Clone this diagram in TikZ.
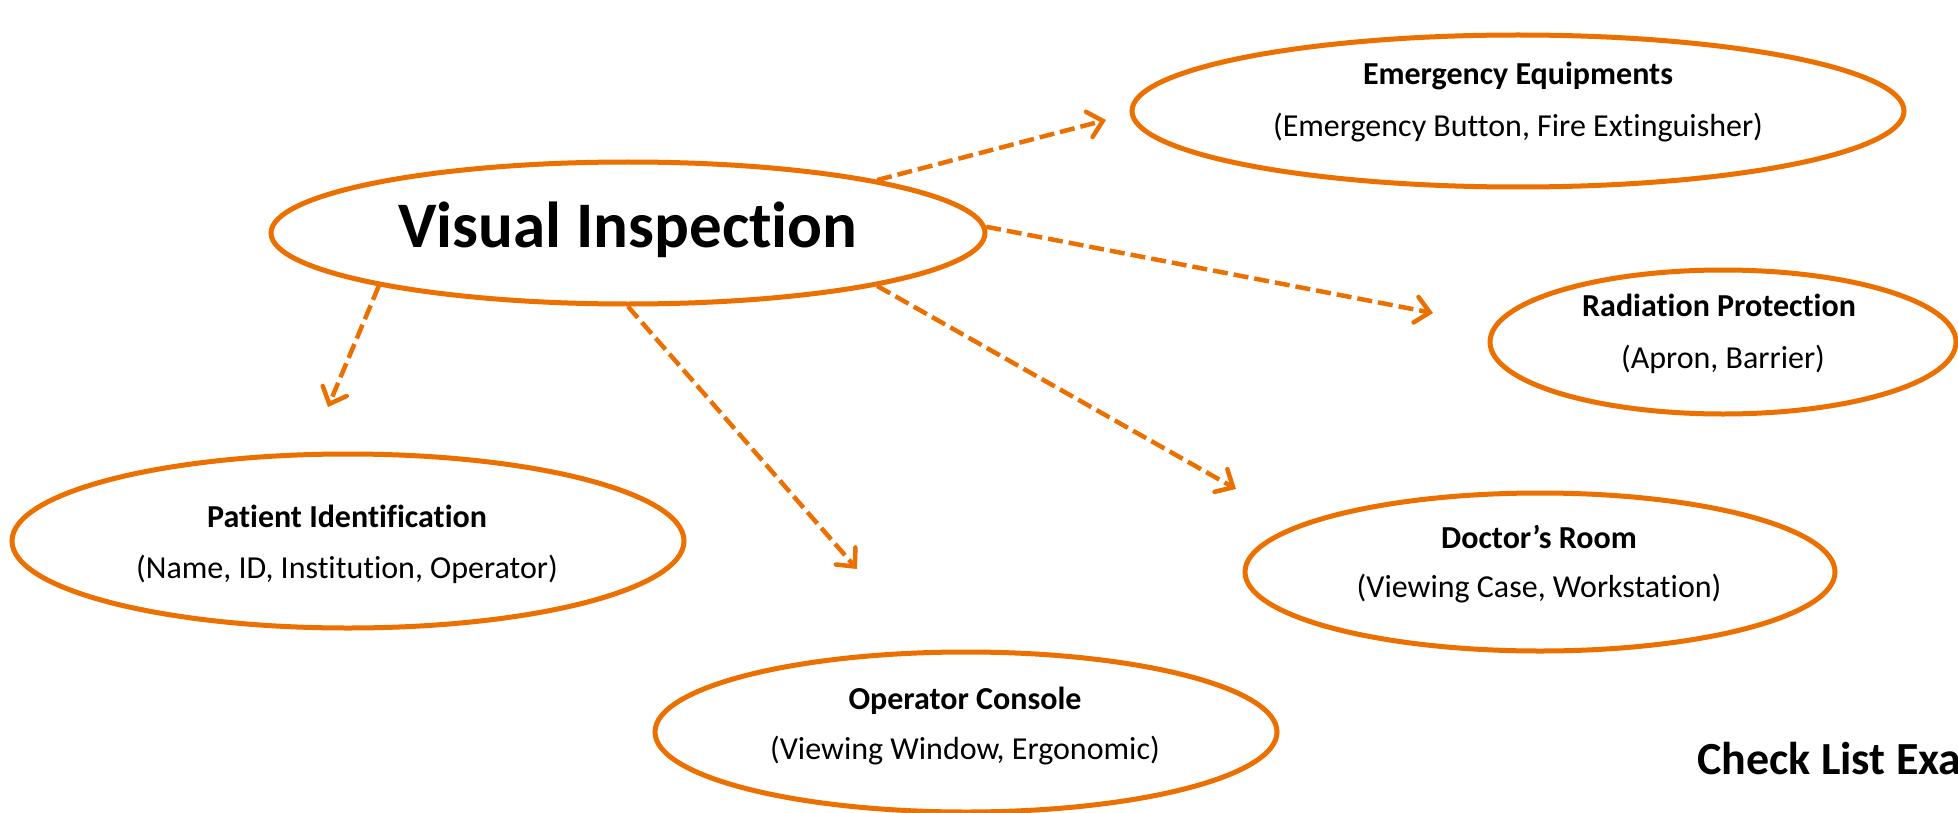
\documentclass[tikz,border=0pt]{standalone}
\usepackage{fontspec}
\setmainfont{Carlito}[Ligatures={NoCommon,NoContextual}]
\usetikzlibrary{shapes.geometric,arrows.meta}
\definecolor{org}{HTML}{EC7000}
\tikzset{
  oval/.style={ellipse,draw=org,line width=5pt,inner sep=0pt,fill=white},
  ttl/.style={anchor=base,font=\fontsize{32}{38}\selectfont\bfseries,inner sep=0pt},
  sub/.style={anchor=base,font=\fontsize{32}{38}\selectfont,inner sep=0pt},
  link/.style={draw=org,line width=4.5pt,dash pattern=on 15pt off 6pt,
    -{Straight Barb[length=14pt,width=26pt,line cap=round]}},
}
\begin{document}
\begin{tikzpicture}[x=1pt,y=-1pt]
\useasboundingbox (0,0) rectangle (1958,813);
% ellipses
\node[oval,minimum width=714pt,minimum height=142pt] (vi) at (628,233) {};
\node[oval,minimum width=772pt,minimum height=152pt] (em) at (1518,111) {};
\node[oval,minimum width=466pt,minimum height=144pt] (ra) at (1723,342) {};
\node[oval,minimum width=672pt,minimum height=174pt] (pa) at (348,541) {};
\node[oval,minimum width=622pt,minimum height=160pt] (op) at (966,732) {};
\node[oval,minimum width=590pt,minimum height=158pt] (dr) at (1540,572) {};
% texts
\node[anchor=base,inner sep=0pt,font=\fontsize{65}{70}\selectfont\bfseries] (vit) at (628,247) {Visual Inspection};
\node[ttl] (emt) at (1518,85) {Emergency Equipments};
\node[sub] (ems) at (1518,137) {(Emergency Button, Fire Extinguisher)};
\node[ttl] (rat) at (1719,316) {Radiation Protection};
\node[sub] (ras) at (1723,368) {(Apron, Barrier)};
\node[ttl] (pat) at (347,527) {Patient Identification};
\node[sub] (pas) at (347,578) {(Name, ID, Institution, Operator)};
\node[ttl] (opt) at (965,709) {Operator Console};
\node[sub] (ops) at (965,759) {(Viewing Window, Ergonomic)};
\node[ttl] (drt) at (1539,548) {Doctor’s Room};
\node[sub] (drs) at (1539,597) {(Viewing Case, Workstation)};
\node[anchor=base west,inner sep=0pt,font=\fontsize{46}{50}\selectfont\bfseries] (chk) at (1697,774) {Check List Exa};
% arrow ends
\coordinate (a1) at (1106,120);
\coordinate (a2) at (1433,313);
\coordinate (a3) at (1236,489);
\coordinate (a4) at (857,569);
\coordinate (a5) at (328,407);
\draw[link] (vi.12) -- (a1);
\draw[link] (vi.1) -- (a2);
\draw[link] (vi.-12) -- (a3);
\draw[link] (vi.-90) -- (a4);
\draw[link] (vi.-168) -- (a5);
\end{tikzpicture}
\end{document}
